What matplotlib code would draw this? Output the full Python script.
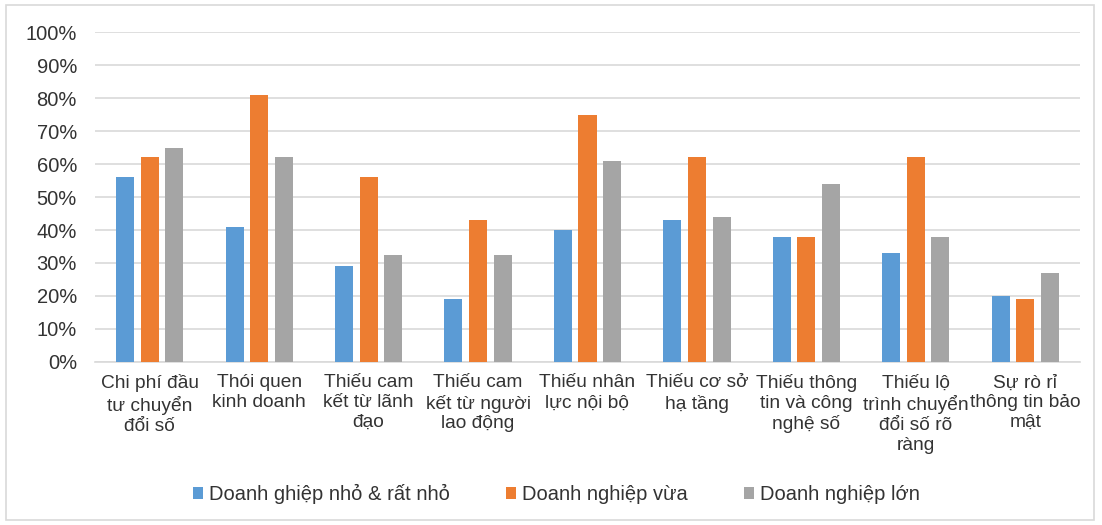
import matplotlib
matplotlib.use("Agg")
from matplotlib import pyplot as plt
from matplotlib.patches import Rectangle
import numpy as np

plt.rcParams["font.family"] = ["Liberation Sans", "DejaVu Sans"]

categories = [
    "Chi phí đầu\ntư chuyển\nđổi số",
    "Thói quen\nkinh doanh",
    "Thiếu cam\nkết từ lãnh\nđạo",
    "Thiếu cam\nkết từ người\nlao động",
    "Thiếu nhân\nlực nội bộ",
    "Thiếu cơ sở\nhạ tầng",
    "Thiếu thông\ntin và công\nnghệ số",
    "Thiếu lộ\ntrình chuyển\nđổi số rõ\nràng",
    "Sự rò rỉ\nthông tin bảo\nmật",
]
series_names = ["Doanh ghiệp nhỏ & rất nhỏ", "Doanh nghiệp vừa", "Doanh nghiệp lớn"]
small = [0.56, 0.41, 0.29, 0.19, 0.40, 0.43, 0.38, 0.33, 0.20]
medium = [0.62, 0.81, 0.56, 0.43, 0.75, 0.62, 0.38, 0.62, 0.19]
large = [0.65, 0.62, 0.325, 0.325, 0.61, 0.44, 0.54, 0.38, 0.27]
colors = ["#5B9BD5", "#ED7D31", "#A5A5A5"]

txt = "#333333"
fs = 14.5
fig = plt.figure(figsize=(11.02, 5.25), dpi=100)
fig.patches.append(Rectangle((0.005, 0.01), 0.988, 0.98, transform=fig.transFigure,
                             fill=False, edgecolor="#D9D9D9", linewidth=1.2))
ax = fig.add_axes([0.0862, 0.3105, 0.8938, 0.6285])

x = np.arange(len(categories))
w = 0.165
off = 0.225
for i, vals in enumerate([small, medium, large]):
    ax.bar(x + (i - 1) * off, vals, width=w, color=colors[i], label=series_names[i], zorder=3)

ax.set_xlim(-0.5, len(categories) - 0.5)
ax.set_ylim(0, 1.0)
ax.set_yticks(np.arange(0, 1.01, 0.1))
ax.set_yticklabels([f"{int(round(v * 100))}%" for v in np.arange(0, 1.01, 0.1)])
ax.set_xticks(x)
ax.set_xticklabels(categories, linespacing=1.22)
ax.tick_params(axis="y", length=0, pad=13, labelsize=fs, labelcolor=txt)
ax.tick_params(axis="x", length=0, pad=9, labelsize=13.8, labelcolor=txt)
ax.grid(axis="y", color="#D9D9D9", linewidth=1.2, zorder=0)
for s in ["top", "right", "left"]:
    ax.spines[s].set_visible(False)
ax.spines["bottom"].set_color("#D9D9D9")
ax.spines["bottom"].set_linewidth(1.2)

fig.legend(loc="center", bbox_to_anchor=(0.505, 0.059), ncol=3, frameon=False,
           fontsize=fs, labelcolor=txt, handlelength=0.5, handleheight=0.5,
           handletextpad=0.3, columnspacing=2.8)

fig.savefig("out.png", dpi=100)
